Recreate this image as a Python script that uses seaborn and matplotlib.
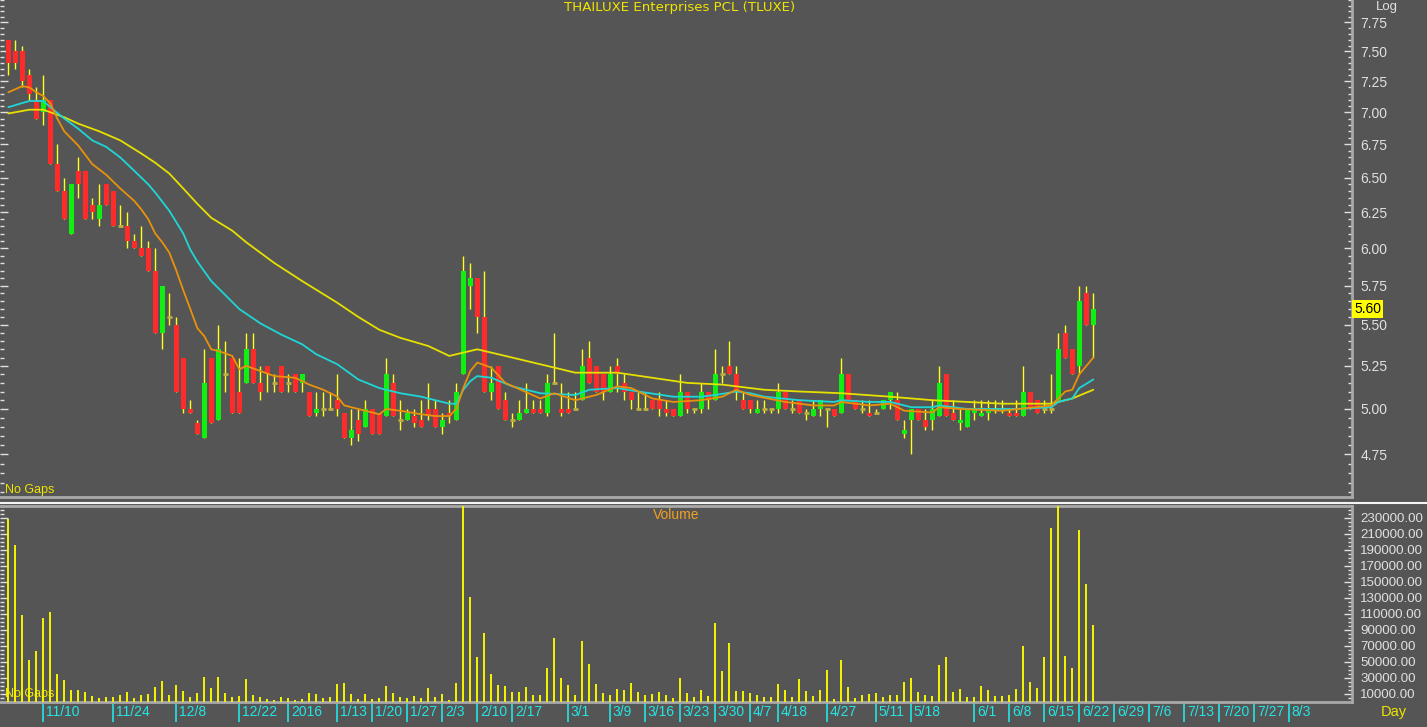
import matplotlib
matplotlib.use("Agg")
import matplotlib.pyplot as plt
import matplotlib.transforms as mtransforms
from matplotlib.lines import Line2D
from matplotlib.ticker import FuncFormatter
import seaborn as sns

# === 1. Daily bars (trading-day index 0 = 2015-11-03) ===
open_ = [
    7.60, 7.50, 7.50, 7.30, 7.10, 7.00, 7.10, 6.60, 6.40, 6.10,
    6.55, 6.55, 6.30, 6.20, 6.45, 6.40, 6.15, 6.15, 6.05, 6.00,
    6.00, 5.85, 5.45, 5.55, 5.50, 5.30, 5.00, 4.92, 4.84, 5.30,
    4.94, 5.20, 5.30, 5.10, 5.15, 5.35, 5.15, 5.25, 5.15, 5.25,
    5.15, 5.20, 5.15, 5.10, 4.98, 5.00, 5.00, 5.05, 4.98, 4.84,
    4.94, 4.90, 5.00, 4.98, 4.96, 5.15, 4.94, 4.94, 4.96, 4.94,
    5.00, 5.00, 4.90, 4.98, 4.94, 5.20, 5.75, 5.80, 5.55, 5.10,
    5.25, 5.05, 4.94, 4.94, 4.98, 5.00, 5.00, 4.98, 5.15, 5.00,
    5.00, 5.00, 5.05, 5.30, 5.25, 5.20, 5.10, 5.25, 5.15, 5.10,
    5.00, 5.00, 5.05, 5.05, 5.00, 5.00, 4.96, 5.10, 5.00, 5.00,
    5.10, 5.05, 5.20, 5.25, 5.20, 5.05, 5.05, 4.98, 5.00, 5.00,
    5.00, 5.10, 5.00, 5.05, 4.98, 4.96, 5.00, 5.00, 5.00, 4.98,
    5.20, 5.05, 5.00, 4.98, 4.98, 5.00, 5.05, 5.05, 4.86, 4.94,
    5.00, 4.94, 4.94, 4.96, 5.20, 4.98, 4.92, 4.90, 4.98, 4.96,
    4.98, 5.00, 5.00, 4.98, 4.98, 4.96, 5.10, 5.05, 5.00, 5.00,
    5.05, 5.45, 5.35, 5.25, 5.70, 5.50,
]
high = [
    7.60, 7.60, 7.55, 7.35, 7.20, 7.30, 7.10, 6.75, 6.50, 6.45,
    6.65, 6.55, 6.35, 6.45, 6.45, 6.40, 6.30, 6.25, 6.10, 6.15,
    6.05, 6.00, 5.75, 5.70, 5.55, 5.30, 5.05, 4.94, 5.35, 5.30,
    5.50, 5.40, 5.30, 5.30, 5.45, 5.45, 5.25, 5.25, 5.20, 5.25,
    5.20, 5.20, 5.20, 5.10, 5.10, 5.10, 5.10, 5.20, 4.98, 5.00,
    5.00, 5.05, 5.00, 4.98, 5.30, 5.20, 5.05, 5.00, 5.00, 5.05,
    5.15, 5.05, 4.98, 5.05, 5.15, 5.95, 5.90, 5.80, 5.85, 5.25,
    5.25, 5.10, 4.98, 5.05, 5.15, 5.05, 5.05, 5.20, 5.45, 5.15,
    5.10, 5.10, 5.35, 5.40, 5.25, 5.20, 5.25, 5.30, 5.20, 5.10,
    5.10, 5.10, 5.05, 5.10, 5.05, 5.00, 5.20, 5.10, 5.00, 5.15,
    5.10, 5.35, 5.25, 5.40, 5.25, 5.10, 5.05, 5.05, 5.05, 5.00,
    5.15, 5.10, 5.05, 5.05, 5.00, 5.05, 5.05, 5.00, 5.00, 5.30,
    5.20, 5.05, 5.05, 5.05, 5.00, 5.05, 5.10, 5.10, 4.94, 5.00,
    5.00, 5.00, 5.05, 5.25, 5.20, 5.05, 5.00, 5.00, 5.05, 5.05,
    5.05, 5.05, 5.05, 5.00, 5.05, 5.25, 5.10, 5.05, 5.05, 5.20,
    5.45, 5.50, 5.35, 5.75, 5.75, 5.70,
]
low = [
    7.30, 7.35, 7.20, 7.10, 6.95, 6.90, 6.60, 6.40, 6.20, 6.10,
    6.35, 6.20, 6.20, 6.15, 6.30, 6.15, 6.15, 6.00, 6.00, 5.95,
    5.85, 5.45, 5.35, 5.50, 5.10, 4.98, 4.98, 4.86, 4.84, 4.92,
    4.94, 5.10, 4.98, 4.98, 5.15, 5.15, 5.05, 5.10, 5.10, 5.10,
    5.10, 5.10, 5.10, 4.96, 4.96, 4.96, 5.00, 4.96, 4.84, 4.80,
    4.82, 4.90, 4.86, 4.86, 4.96, 4.96, 4.88, 4.94, 4.90, 4.90,
    4.94, 4.90, 4.86, 4.92, 4.94, 5.20, 5.60, 5.45, 5.10, 5.05,
    5.00, 4.94, 4.90, 4.94, 4.98, 4.98, 4.98, 4.96, 5.15, 4.96,
    4.98, 5.00, 5.05, 5.15, 5.10, 5.05, 5.10, 5.10, 5.05, 5.00,
    5.00, 5.00, 5.00, 4.96, 4.96, 4.96, 4.96, 4.98, 4.98, 4.98,
    5.00, 5.05, 5.15, 5.20, 5.05, 5.00, 4.98, 4.98, 4.98, 4.98,
    4.98, 5.00, 4.98, 4.98, 4.94, 4.96, 4.96, 4.90, 4.96, 4.98,
    5.05, 5.00, 4.98, 4.96, 4.98, 5.00, 5.00, 4.94, 4.84, 4.75,
    4.94, 4.88, 4.88, 4.96, 4.96, 4.94, 4.88, 4.90, 4.94, 4.96,
    4.94, 4.98, 4.98, 4.96, 4.96, 4.96, 5.00, 4.98, 4.98, 4.98,
    5.05, 5.30, 5.20, 5.20, 5.50, 5.30,
]
close = [
    7.40, 7.40, 7.25, 7.15, 6.95, 7.10, 6.60, 6.40, 6.20, 6.45,
    6.45, 6.20, 6.25, 6.30, 6.30, 6.15, 6.15, 6.05, 6.00, 5.95,
    5.85, 5.45, 5.75, 5.55, 5.10, 5.00, 4.98, 4.86, 5.15, 4.92,
    5.35, 5.20, 4.98, 4.98, 5.35, 5.15, 5.10, 5.20, 5.15, 5.10,
    5.15, 5.10, 5.20, 4.96, 5.00, 5.00, 5.00, 5.00, 4.84, 4.88,
    4.86, 5.00, 4.86, 4.86, 5.20, 4.96, 4.94, 4.98, 4.92, 4.90,
    4.96, 4.90, 4.94, 4.96, 5.10, 5.85, 5.80, 5.55, 5.10, 5.15,
    5.00, 4.94, 4.94, 4.98, 5.00, 4.98, 4.98, 5.15, 5.15, 4.98,
    4.98, 5.00, 5.25, 5.15, 5.10, 5.10, 5.20, 5.20, 5.10, 5.05,
    5.00, 5.00, 5.00, 5.00, 4.98, 4.96, 5.10, 5.00, 5.00, 5.10,
    5.05, 5.20, 5.20, 5.20, 5.10, 5.00, 5.00, 5.00, 5.00, 5.00,
    5.10, 5.00, 5.00, 4.98, 4.98, 5.00, 5.05, 5.00, 4.96, 5.20,
    5.05, 5.00, 5.00, 4.96, 4.98, 5.05, 5.10, 4.94, 4.88, 5.00,
    4.94, 4.90, 5.00, 5.15, 4.96, 4.94, 4.94, 5.00, 5.00, 4.98,
    5.00, 5.00, 5.00, 4.96, 4.96, 5.10, 5.00, 4.98, 5.00, 5.00,
    5.35, 5.30, 5.20, 5.65, 5.50, 5.60,
]
volume = [
    229000, 196000, 109000, 52000, 64000, 105000, 112000, 35000, 27000, 15000,
    14600, 12900, 7500, 5000, 6300, 6700, 8300, 12000, 5400, 8800,
    10400, 18300, 26000, 8800, 20800, 14200, 6700, 10800, 31700, 17900,
    31700, 11300, 5800, 7900, 28800, 8800, 6300, 3800, 2500, 5800,
    4600, 2900, 4200, 11700, 10400, 5400, 6300, 22900, 23300, 10400,
    3800, 10000, 4200, 4600, 20400, 11700, 6700, 5000, 7500, 4600,
    17100, 6700, 10400, 2500, 23300, 245000, 131000, 56000, 86000, 35400,
    21000, 20400, 12000, 12000, 18800, 8800, 8800, 42900, 80000, 29600,
    20800, 9200, 75800, 47500, 22500, 11300, 8300, 15800, 14600, 23800,
    12000, 9200, 10000, 12500, 8300, 4600, 30400, 10800, 6300, 15000,
    7500, 98300, 38800, 73300, 13300, 13300, 11700, 8800, 6700, 5800,
    22000, 14600, 6300, 28800, 13300, 7900, 14600, 39600, 3800, 52500,
    18800, 5000, 9200, 10000, 11300, 6700, 8800, 8800, 25400, 29600,
    12500, 8800, 7500, 46700, 55800, 12000, 15800, 6300, 6300, 20400,
    15400, 7100, 7900, 9200, 16700, 70400, 25400, 17900, 56700, 217000,
    245000, 58000, 42000, 215000, 148000, 96000,
]

# === 2. Moving averages (bar index -> price) ===
ma_fast_x = [0, 2, 3, 4, 5, 6, 7, 8, 10, 12, 14, 16, 18, 19, 20, 21, 22, 23, 24, 25,
             26, 27, 28, 29, 30, 32, 33, 34, 36, 38, 41, 43, 45, 47, 48, 51, 53, 54,
             56, 59, 61, 63, 64, 65, 66, 67, 69, 71, 76, 78, 81, 84, 87, 89, 92, 95,
             99, 102, 104, 106, 111, 115, 118, 119, 123, 126, 128, 132, 133, 136,
             142, 149, 150, 151, 152, 153, 155]
ma_fast = [7.16, 7.21, 7.20, 7.16, 7.13, 7.07, 6.95, 6.85, 6.74, 6.60, 6.52, 6.42,
           6.33, 6.27, 6.20, 6.10, 6.04, 5.97, 5.85, 5.72, 5.60, 5.48, 5.43, 5.35,
           5.34, 5.31, 5.23, 5.25, 5.22, 5.19, 5.18, 5.14, 5.11, 5.07, 5.02, 4.99,
           4.97, 5.00, 4.99, 4.97, 4.96, 4.96, 5.00, 5.12, 5.22, 5.27, 5.24, 5.15,
           5.06, 5.09, 5.05, 5.08, 5.13, 5.12, 5.06, 5.04, 5.05, 5.07, 5.11, 5.08,
           5.04, 5.02, 5.02, 5.04, 5.02, 5.03, 4.99, 4.98, 5.01, 5.00, 4.99, 5.02,
           5.06, 5.10, 5.11, 5.20, 5.30]

ma_mid_x = [0, 3, 5, 6, 8, 10, 12, 14, 16, 18, 20, 21, 23, 25, 26, 27, 29, 33, 36,
            39, 42, 44, 47, 50, 53, 56, 59, 63, 64, 65, 66, 67, 69, 72, 76, 81, 83,
            87, 90, 95, 99, 101, 104, 106, 108, 113, 118, 119, 123, 126, 129, 132,
            133, 137, 144, 149, 150, 152, 153, 155]
ma_mid = [7.04, 7.09, 7.09, 7.04, 6.95, 6.87, 6.78, 6.73, 6.65, 6.55, 6.45, 6.39,
          6.26, 6.10, 5.99, 5.91, 5.78, 5.60, 5.51, 5.44, 5.38, 5.32, 5.26, 5.17,
          5.12, 5.09, 5.07, 5.03, 5.03, 5.11, 5.16, 5.19, 5.18, 5.13, 5.09, 5.08,
          5.11, 5.12, 5.10, 5.07, 5.07, 5.08, 5.10, 5.09, 5.07, 5.05, 5.04, 5.05,
          5.04, 5.04, 5.01, 5.01, 5.02, 5.00, 5.00, 5.01, 5.04, 5.06, 5.12, 5.17]

ma_slow_x = [0, 3, 5, 6, 8, 10, 13, 16, 19, 21, 23, 25, 27, 29, 32, 34, 38, 42, 47,
             50, 53, 56, 60, 63, 65, 67, 71, 77, 81, 87, 92, 97, 102, 108, 113, 119,
             126, 132, 137, 142, 149, 152, 155]
ma_slow = [6.99, 7.02, 7.02, 7.00, 6.96, 6.91, 6.85, 6.78, 6.68, 6.61, 6.53, 6.42,
           6.31, 6.21, 6.12, 6.04, 5.90, 5.78, 5.64, 5.55, 5.47, 5.42, 5.37, 5.31,
           5.33, 5.35, 5.31, 5.25, 5.21, 5.21, 5.18, 5.15, 5.14, 5.11, 5.10, 5.09,
           5.07, 5.05, 5.04, 5.03, 5.03, 5.06, 5.11]

# === 3. Date axis ===
tick_idx = [5, 15, 24, 33, 40, 47, 52, 57, 62, 67, 72, 80, 86, 91, 96, 101, 106,
            110, 117, 124, 129, 138, 143, 148, 153, 158, 163, 168, 173, 178, 183]
tick_lbl = ["11/10", "11/24", "12/8", "12/22", "2016", "1/13", "1/20", "1/27",
            "2/3", "2/10", "2/17", "3/1", "3/9", "3/16", "3/23", "3/30", "4/7",
            "4/18", "4/27", "5/11", "5/18", "6/1", "6/8", "6/15", "6/22", "6/29",
            "7/6", "7/13", "7/20", "7/27", "8/3"]
price_ticks = [4.75, 5.00, 5.25, 5.50, 5.75, 6.00, 6.25, 6.50, 6.75, 7.00, 7.25, 7.50, 7.75]
vol_ticks = list(range(10000, 230001, 20000))

# === 4. Style ===
BG = "#555555"
FRAME = "#a9a9a9"
YEL = "#f0e400"
sns.set_theme(style="dark", rc={
    "axes.facecolor": BG, "figure.facecolor": BG, "axes.edgecolor": FRAME,
    "axes.grid": False,
})
plt.rcParams["font.family"] = ["Liberation Sans", "DejaVu Sans"]

W, H = 1427, 727
fig = plt.figure(figsize=(W / 100, H / 100), dpi=100)
ax = fig.add_axes([0, 1 - 497 / H, 1352 / W, 497 / H])
axv = fig.add_axes([0, 25 / H, 1352 / W, 196 / H])

n = len(close)
idx = list(range(n))
xlim = (-8.3 / 7, (1352 - 8.3) / 7)

# --- candles ---
ax.vlines(idx, low, high, color="#ffff1e", lw=1, zorder=2)
for i in idx:
    o, c = open_[i], close[i]
    if o == c:
        ax.hlines(c, i - 0.36, i + 0.36, color="#bdb040", lw=2, zorder=3)
    else:
        col = "#10ef10" if c > o else "#ff2a2a"
        ax.bar(i, abs(c - o), bottom=min(o, c), width=0.72, color=col,
               edgecolor="none", zorder=3)

# --- moving averages ---
sns.lineplot(x=ma_slow_x, y=ma_slow, ax=ax, color="#e6e000", lw=1.3, zorder=4)
sns.lineplot(x=ma_mid_x, y=ma_mid, ax=ax, color="#1fd6d6", lw=1.3, zorder=5)
sns.lineplot(x=ma_fast_x, y=ma_fast, ax=ax, color="#e8920a", lw=1.3, zorder=6)

ax.set_yscale("log")
ax.set_ylim(4.525, 7.95)
ax.set_xlim(*xlim)
ax.set_yticks(price_ticks)
ax.set_yticklabels([f"{t:.2f}" for t in price_ticks])
minor = [round(4.55 + 0.05 * k, 2) for k in range(69)]
ax.set_yticks([m for m in minor if m not in price_ticks], minor=True)
ax.yaxis.set_minor_formatter(FuncFormatter(lambda v, p: ""))
ax.set_xticks([])
ax.set_xlabel("")
ax.set_ylabel("")
ax.tick_params(axis="y", which="both", direction="in", left=True, right=True,
               labelleft=False, labelright=True, colors="#e0e0e0",
               labelsize=10, pad=6)
ax.tick_params(axis="y", which="major", length=6, width=1)
ax.tick_params(axis="y", which="minor", length=3, width=1)
for s in ["top", "left"]:
    ax.spines[s].set_visible(False)
for s in ["bottom", "right"]:
    ax.spines[s].set_color(FRAME)
    ax.spines[s].set_linewidth(2)

ax.text(680 / 1352, 1 - 7 / 497, "THAILUXE Enterprises PCL (TLUXE)",
        transform=ax.transAxes, ha="center", va="center",
        color=YEL, fontsize=9.6, family="DejaVu Sans")
ax.text(0.004, 7 / 497, "No Gaps", transform=ax.transAxes, ha="left",
        va="center", color=YEL, fontsize=9)
last_tr = mtransforms.blended_transform_factory(ax.transAxes, ax.transData)
ax.text(1.0015, close[-1], f"{close[-1]:.2f}", transform=last_tr, ha="left",
        va="center", color="black", fontsize=10, zorder=10,
        bbox=dict(boxstyle="square,pad=0.15", fc="#ffff00", ec="none"))
fig.text(1376 / W, 1 - 7 / H, "Log", color="#e0e0e0", fontsize=9.5,
         ha="left", va="center")

# --- volume ---
axv.bar(idx, volume, width=0.32, color="#f2f200", edgecolor="none", zorder=3)
axv.set_xlim(*xlim)
axv.set_ylim(0, 245000)
axv.set_yticks(vol_ticks)
axv.yaxis.set_major_formatter(FuncFormatter(lambda v, p: f"{v:.2f}"))
axv.set_yticks(list(range(5000, 245001, 5000)), minor=True)
axv.yaxis.set_minor_formatter(FuncFormatter(lambda v, p: ""))
axv.tick_params(axis="y", which="both", direction="in", left=True, right=True,
                labelleft=False, labelright=True, colors="#e0e0e0",
                labelsize=9.6, pad=6)
axv.tick_params(axis="y", which="major", length=6, width=1)
axv.tick_params(axis="y", which="minor", length=3, width=1)
axv.set_xticks(tick_idx)
axv.set_xticklabels(tick_lbl)
axv.tick_params(axis="x", which="major", bottom=True, direction="out",
                length=14.4, width=1.2, color="#22e6e6", labelcolor="#22e6e6",
                labelsize=10, pad=-12.5)
shift = mtransforms.ScaledTranslation(2.5 / 100, 0, fig.dpi_scale_trans)
for lbl in axv.get_xticklabels():
    lbl.set_ha("left")
    lbl.set_transform(lbl.get_transform() + shift)
axv.spines["left"].set_visible(False)
for s in ["top", "bottom", "right"]:
    axv.spines[s].set_color(FRAME)
    axv.spines[s].set_linewidth(2)
axv.set_xlabel("")
axv.set_ylabel("")
axv.text(676 / 1352, (702 - 515) / 196, "Volume", transform=axv.transAxes,
         ha="center", va="center", color="#f0a020", fontsize=10)
axv.text(0.004, 8 / 196, "No Gaps", transform=axv.transAxes, ha="left",
         va="center", color=YEL, fontsize=9, zorder=1)
fig.text(1394 / W, 1 - 712 / H, "Day", color=YEL, fontsize=10.5,
         ha="center", va="center")

fig.add_artist(Line2D([0, 1], [1 - 503 / H] * 2, transform=fig.transFigure,
                      color="#f4f4f4", lw=1.5))

fig.savefig("out.png", dpi=100, facecolor=BG)
